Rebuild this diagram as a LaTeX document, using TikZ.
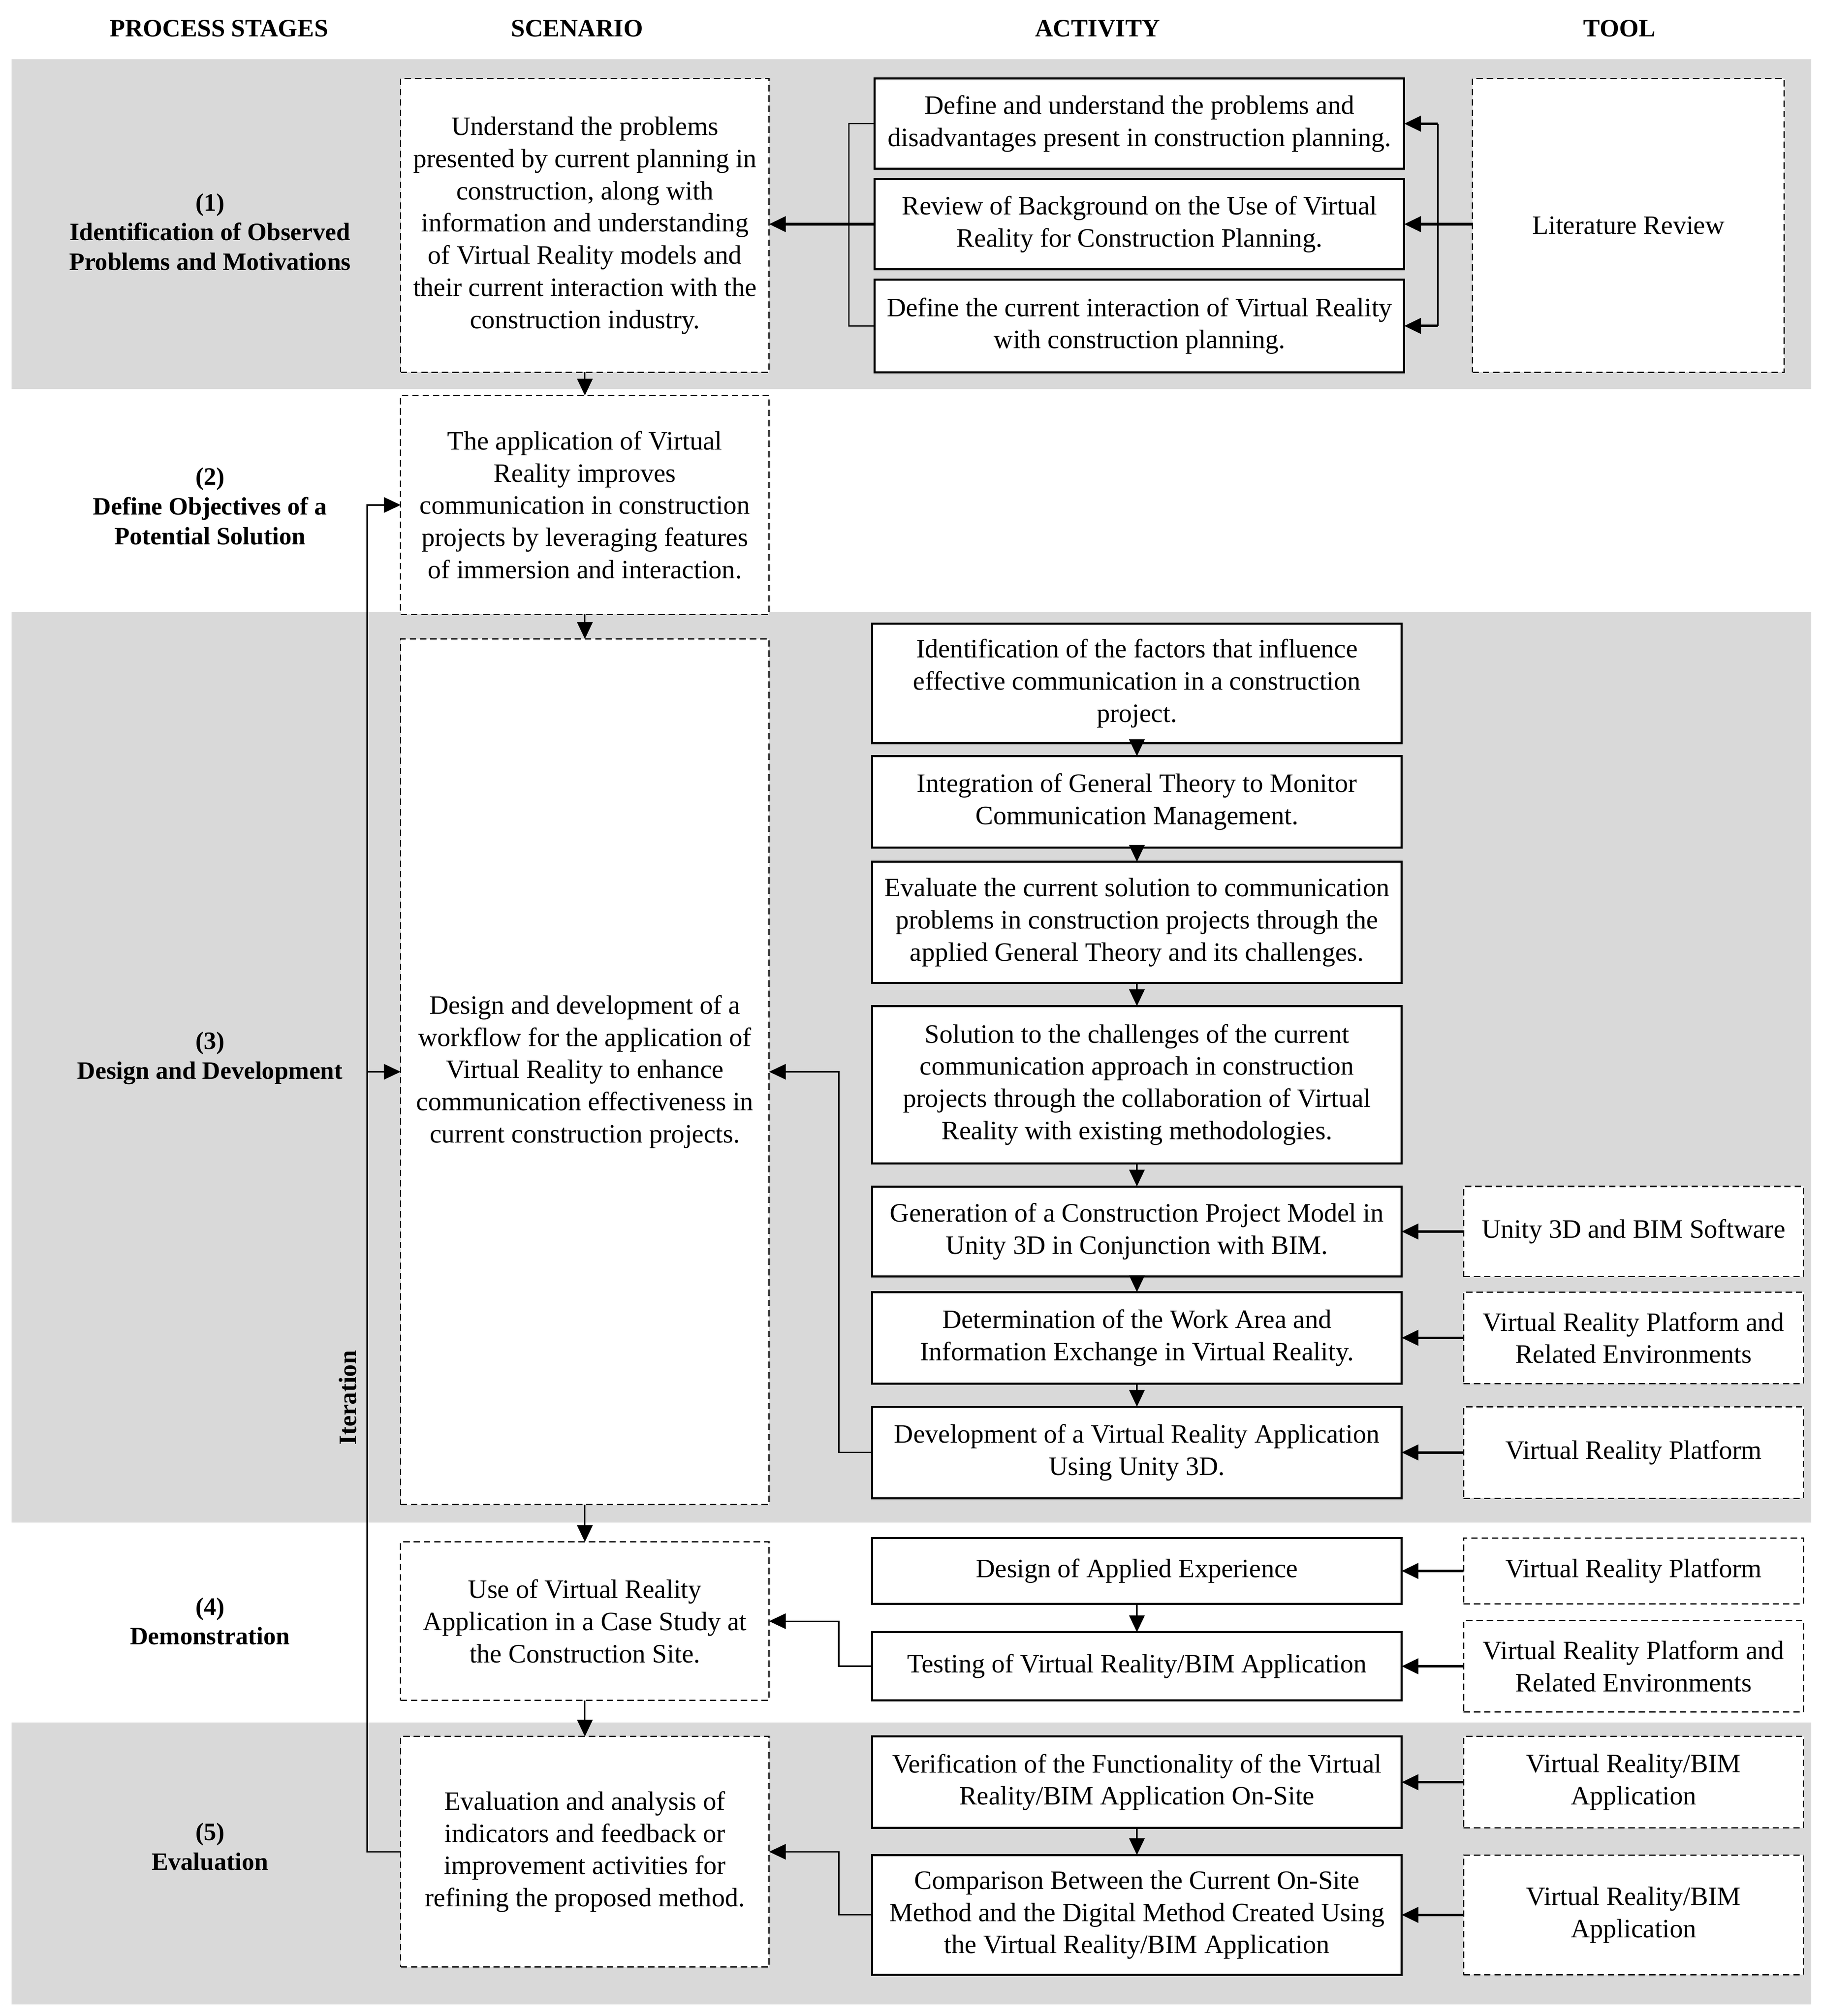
\documentclass[tikz,border=0pt]{standalone}
\usepackage{fontspec}
\setmainfont{Liberation Serif}
\usetikzlibrary{arrows.meta}
\definecolor{bandgray}{RGB}{217,217,217}
\newcommand\bodyfont{\fontsize{10.3}{12.5}\selectfont}
\newcommand\stagefont{\bfseries\fontsize{9.7}{11.5}\selectfont}
\tikzset{
  actbox/.style={draw, line width=0.8pt, fill=white, align=center, inner sep=0pt, outer sep=0pt, font=\bodyfont},
  dashbox/.style={draw, line width=0.5pt, dash pattern=on 2.5pt off 1.5pt, fill=white, align=center, inner sep=0pt, outer sep=0pt, font=\bodyfont},
  stagelbl/.style={align=center, font=\stagefont, inner sep=0pt},
  thinline/.style={line width=0.55pt},
  thinarrow/.style={line width=0.55pt, -{Triangle[length=6.5pt,width=6pt]}},
  thickarrow/.style={line width=1pt, -{Triangle[length=6.5pt,width=6pt]}},
}
\newcommand\mybox[7]{\node[#6, minimum width={(#4-#2)*0.5pt}, minimum height={(#5-#3)*0.5pt}] (#1) at ({(#2+#4)/2},{(#3+#5)/2}) {#7};}
\begin{document}
\begin{tikzpicture}[x=0.5pt,y=-0.5pt]
\useasboundingbox (0,0) rectangle (1414,1565);
% bands
\fill[bandgray] (9,46) rectangle (1406,302);
\fill[bandgray] (9,475) rectangle (1406,1182);
\fill[bandgray] (9,1337) rectangle (1406,1556);
% headers
\node[stagelbl] (h1) at (170,22) {PROCESS STAGES};
\node[stagelbl] (h2) at (448,22) {SCENARIO};
\node[stagelbl] (h3) at (852,22) {ACTIVITY};
\node[stagelbl] (h4) at (1257,22) {TOOL};
% stage labels
\node[stagelbl] (st1) at (163,180) {(1)\\Identification of Observed\\Problems and Motivations};
\node[stagelbl] (st2) at (163,393) {(2)\\Define Objectives of a\\Potential Solution};
\node[stagelbl] (st3) at (163,821.5) {(3)\\Design and Development};
\node[stagelbl] (st4) at (163,1258.5) {(4)\\Demonstration};
\node[stagelbl] (st5) at (163,1433.5) {(5)\\Evaluation};
% scenario boxes
\mybox{S1}{311}{61}{597}{289}{dashbox}{Understand the problems\\presented by current planning in\\construction, along with\\information and understanding\\of Virtual Reality models and\\their current interaction with the\\construction industry.}
\mybox{S2}{311}{307}{597}{477}{dashbox}{The application of Virtual\\Reality improves\\communication in construction\\projects by leveraging features\\of immersion and interaction.}
\mybox{S3}{311}{496}{597}{1168}{dashbox}{Design and development of a\\workflow for the application of\\Virtual Reality to enhance\\communication effectiveness in\\current construction projects.}
\mybox{S4}{311}{1197}{597}{1320}{dashbox}{Use of Virtual Reality\\Application in a Case Study at\\the Construction Site.}
\mybox{S5}{311}{1348}{597}{1527}{dashbox}{Evaluation and analysis of\\indicators and feedback or\\improvement activities for\\refining the proposed method.}
% stage 1 activities and tool
\mybox{A1}{679}{61}{1090}{131}{actbox}{Define and understand the problems and\\disadvantages present in construction planning.}
\mybox{A2}{679}{139}{1090}{209}{actbox}{Review of Background on the Use of Virtual\\Reality for Construction Planning.}
\mybox{A3}{679}{217}{1090}{289}{actbox}{Define the current interaction of Virtual Reality\\with construction planning.}
\mybox{T1}{1143}{61}{1385}{289}{dashbox}{Literature Review}
% stage 3 activities
\mybox{B1}{677}{484}{1088}{577}{actbox}{Identification of the factors that influence\\effective communication in a construction\\project.}
\mybox{B2}{677}{587}{1088}{658}{actbox}{Integration of General Theory to Monitor\\Communication Management.}
\mybox{B3}{677}{669}{1088}{763}{actbox}{Evaluate the current solution to communication\\problems in construction projects through the\\applied General Theory and its challenges.}
\mybox{B4}{677}{781}{1088}{903}{actbox}{Solution to the challenges of the current\\communication approach in construction\\projects through the collaboration of Virtual\\Reality with existing methodologies.}
\mybox{B5}{677}{921}{1088}{991}{actbox}{Generation of a Construction Project Model in\\Unity 3D in Conjunction with BIM.}
\mybox{B6}{677}{1003}{1088}{1074}{actbox}{Determination of the Work Area and\\Information Exchange in Virtual Reality.}
\mybox{B7}{677}{1092}{1088}{1163}{actbox}{Development of a Virtual Reality Application\\Using Unity 3D.}
\mybox{T2}{1136}{921}{1400}{991}{dashbox}{Unity 3D and BIM Software}
\mybox{T3}{1136}{1003}{1400}{1074}{dashbox}{Virtual Reality Platform and\\Related Environments}
\mybox{T4}{1136}{1092}{1400}{1163}{dashbox}{Virtual Reality Platform}
% stage 4
\mybox{C1}{677}{1194}{1088}{1245}{actbox}{Design of Applied Experience}
\mybox{C2}{677}{1267}{1088}{1320}{actbox}{Testing of Virtual Reality/BIM Application}
\mybox{T5}{1136}{1194}{1400}{1245}{dashbox}{Virtual Reality Platform}
\mybox{T6}{1136}{1258}{1400}{1329}{dashbox}{Virtual Reality Platform and\\Related Environments}
% stage 5
\mybox{D1}{677}{1348}{1088}{1419}{actbox}{Verification of the Functionality of the Virtual\\Reality/BIM Application On-Site}
\mybox{D2}{677}{1440}{1088}{1533}{actbox}{Comparison Between the Current On-Site\\Method and the Digital Method Created Using\\the Virtual Reality/BIM Application}
\mybox{T7}{1136}{1348}{1400}{1419}{dashbox}{Virtual Reality/BIM\\Application}
\mybox{T8}{1136}{1440}{1400}{1533}{dashbox}{Virtual Reality/BIM\\Application}
% scenario chain
\draw[thinarrow] (S1) -- (S2);
\draw[thinarrow] (S2) -- (S3);
\draw[thinarrow] (S3) -- (S4);
\draw[thinarrow] (S4) -- (S5);
% stage 1 connectors
\coordinate (bl) at (659,0);
\coordinate (br) at (1116,0);
\draw[thinline] (A1.west) -- (bl |- A1.west) -- (bl |- A3.west) -- (A3.west);
\draw[thickarrow] (A2.west) -- (A2.west -| S1.east);
\draw[thinline] (br |- A1.east) -- (br |- A3.east);
\draw[thickarrow] (T1.west |- A2.east) -- (A2.east);
\draw[thickarrow] (br |- A1.east) -- (A1.east);
\draw[thickarrow] (br |- A3.east) -- (A3.east);
% stage 3 connectors
\draw[thinarrow] (B1) -- (B2);
\draw[thinarrow] (B2) -- (B3);
\draw[thinarrow] (B3) -- (B4);
\draw[thinarrow] (B4) -- (B5);
\draw[thinarrow] (B5) -- (B6);
\draw[thinarrow] (B6) -- (B7);
\draw[thickarrow] (T2) -- (B5);
\draw[thickarrow] (T3) -- (B6);
\draw[thickarrow] (T4) -- (B7);
\draw[thinarrow] (B7.west) -- ++(-26,0) |- (S3.east);
% stage 4 connectors
\draw[thinarrow] (C1) -- (C2);
\draw[thickarrow] (T5) -- (C1);
\draw[thickarrow] (T6.west |- C2.east) -- (C2.east);
\draw[thinarrow] (C2.west) -- ++(-26,0) |- (S4.east);
% stage 5 connectors
\draw[thinarrow] (D1) -- (D2);
\draw[thickarrow] (T7) -- (D1);
\draw[thickarrow] (T8) -- (D2);
\draw[thinarrow] (D2.west) -- ++(-26,0) |- (S5.east);
% iteration loop
\coordinate (it) at (285,0);
\draw[thinarrow] (S5.west) -- (S5.west -| it) -- (it |- S2.west) -- (S2.west);
\draw[thinarrow] (it |- S3.west) -- (S3.west);
\node[stagelbl, rotate=90] (iter) at (270,1085) {Iteration};
\end{tikzpicture}
\end{document}
